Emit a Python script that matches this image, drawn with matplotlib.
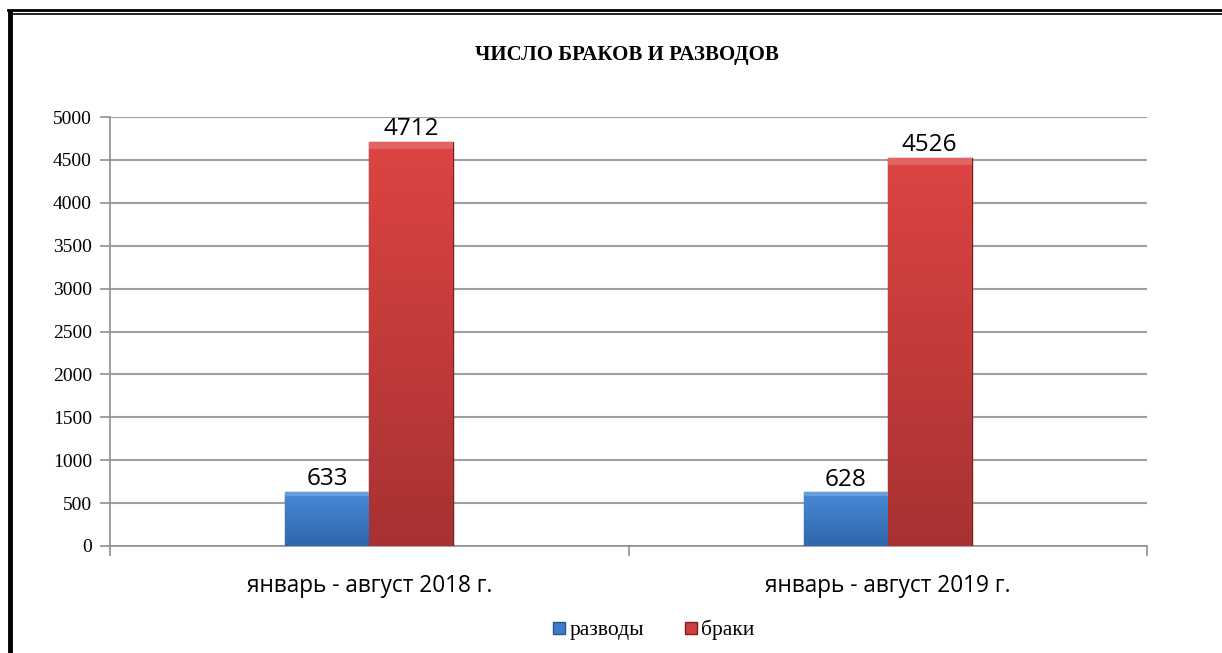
import numpy as np
import matplotlib.pyplot as plt
from matplotlib.lines import Line2D
from matplotlib.patches import Rectangle

# data
periods = ['январь - август 2018 г.', 'январь - август 2019 г.']
divorces = [633, 628]
marriages = [4712, 4526]
series_names = ['разводы', 'браки']
yticks = [0, 500, 1000, 1500, 2000, 2500, 3000, 3500, 4000, 4500, 5000]

fig = plt.figure(figsize=(12.22, 6.53), dpi=100)
ax = fig.add_axes([110 / 1222, 1 - 546 / 653, 1037 / 1222, 429 / 653])

x = np.arange(len(periods))
w = 0.162


def shade_bars(bars, light, dark):
    # vertical gradient + light top strip to mimic the bevelled look
    cmap = plt.matplotlib.colors.LinearSegmentedColormap.from_list('g', [light, dark])
    for b in bars:
        x0, y0 = b.get_x(), b.get_y()
        bw, bh = b.get_width(), b.get_height()
        grad = np.linspace(0, 1, 64).reshape(-1, 1)
        im = ax.imshow(grad, cmap=cmap, extent=[x0, x0 + bw, y0, y0 + bh],
                       aspect='auto', zorder=3, origin='upper')
        im.set_clip_path(b)
        top = min(bh * 0.08, 90)
        ax.add_patch(Rectangle((x0, y0 + bh - top), bw, top, color='white', alpha=0.18,
                               lw=0, zorder=4))


b1 = ax.bar(x - w / 2, divorces, w, color='#3d7cc9', edgecolor='#2a5590', lw=1, zorder=3)
b2 = ax.bar(x + w / 2, marriages, w, color='#d04040', edgecolor='#7a1f1f', lw=1, zorder=3)
shade_bars(b1, '#4a8ad6', '#2f66ad')
shade_bars(b2, '#dc4442', '#a83232')

for xi, v in zip(x - w / 2, divorces):
    ax.text(xi, v + 5, str(v), ha='center', va='bottom', fontsize=17.5, family='Open Sans')
for xi, v in zip(x + w / 2, marriages):
    ax.text(xi, v + 5, str(v), ha='center', va='bottom', fontsize=17.5, family='Open Sans')

ax.set_xlim(-0.5, 1.5)
ax.set_ylim(0, 5000)
ax.set_yticks(yticks)
ax.set_yticklabels([str(t) for t in yticks], family='Liberation Serif', fontsize=14)
ax.set_xticks([-0.5, 0.5, 1.5])
ax.set_xticklabels([])
ax.set_xticks(x, minor=True)
ax.set_xticklabels(periods, minor=True, family='Open Sans', fontsize=16.3)
ax.tick_params(axis='x', which='minor', length=0, pad=20)
ax.tick_params(axis='x', which='major', length=7, color='#909090', width=1.2)
ax.tick_params(axis='y', length=7, color='#909090', width=1.2, pad=6)

ax.yaxis.grid(True, color='#a0a0a0', lw=1.5, zorder=0)
ax.set_axisbelow(True)
for s in ['top', 'right']:
    ax.spines[s].set_visible(False)
for s in ['left', 'bottom']:
    ax.spines[s].set_color('#909090')
    ax.spines[s].set_linewidth(1.2)

fig.text(627 / 1222, 1 - 55 / 653, 'ЧИСЛО БРАКОВ И РАЗВОДОВ', ha='center', va='center',
         family='Liberation Serif', fontsize=15, weight='bold')

handles = [Line2D([], [], marker='s', ls='', markersize=8, markerfacecolor='#3d7cc9',
                  markeredgecolor='#2a5590'),
           Line2D([], [], marker='s', ls='', markersize=8, markerfacecolor='#d04040',
                  markeredgecolor='#7a1f1f')]
fig.legend(handles, series_names, loc='center', bbox_to_anchor=(652 / 1222, 1 - 630 / 653),
           ncol=2, frameon=False, prop={'family': 'Liberation Serif', 'size': 15.5},
           handletextpad=0.0, columnspacing=1.75, handlelength=0.9)

# page frame
fig.add_artist(Line2D([10 / 1222, 10 / 1222], [0, 1 - 12 / 653], color='black', lw=3.5,
                      transform=fig.transFigure))
fig.add_artist(Line2D([8 / 1222, 1], [1 - 10 / 653, 1 - 10 / 653], color='black', lw=2,
                      transform=fig.transFigure))
fig.add_artist(Line2D([12 / 1222, 1], [1 - 14 / 653, 1 - 14 / 653], color='black', lw=1.2,
                      transform=fig.transFigure))

fig.savefig('out.png', dpi=100)
